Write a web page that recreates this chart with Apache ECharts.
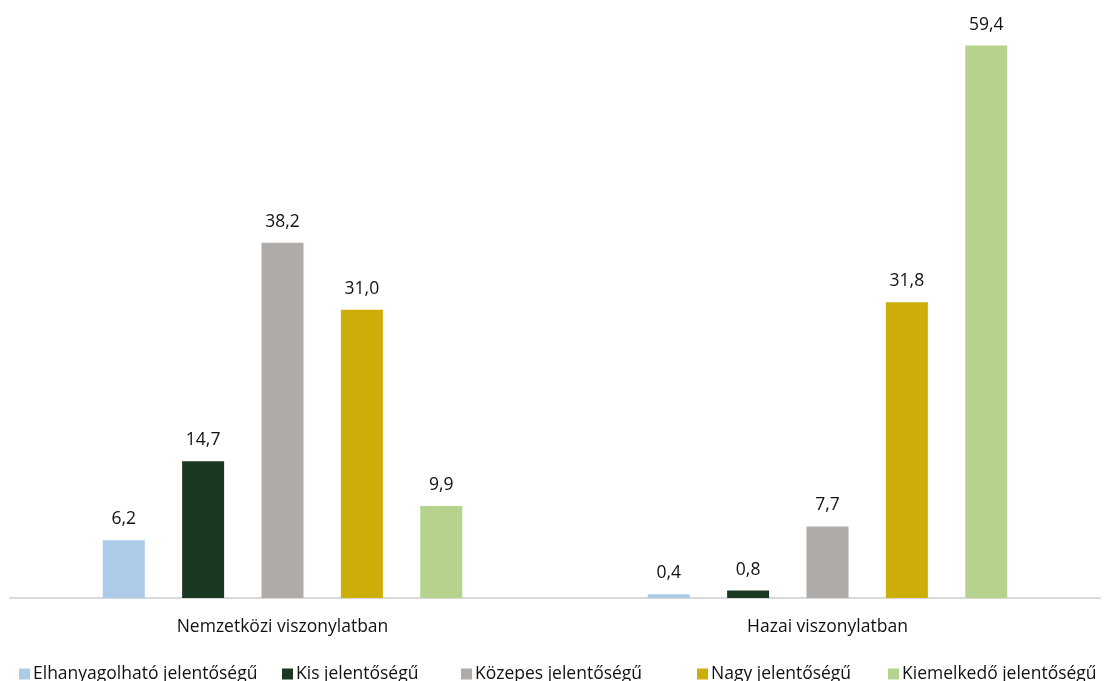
<!DOCTYPE html>
<html>
<head>
<meta charset="utf-8">
<script src="https://cdn.jsdelivr.net/npm/echarts@6/dist/echarts.min.js"></script>
<style>
  html, body { margin: 0; padding: 0; background: #fff; }
  #chart { width: 1104px; height: 681px; }
</style>
</head>
<body>
<div id="chart"></div>
<script>
// Categories along the x axis
const categories = ['Nemzetközi viszonylatban', 'Hazai viszonylatban'];

// One series per significance level (values in %)
const seriesNames = [
  'Elhanyagolható jelentőségű',
  'Kis jelentőségű',
  'Közepes jelentőségű',
  'Nagy jelentőségű',
  'Kiemelkedő jelentőségű'
];
const elhanyagolhato = [6.2, 0.4];
const kis = [14.7, 0.8];
const kozepes = [38.2, 7.7];
const nagy = [31.0, 31.8];
const kiemelkedo = [9.9, 59.4];

const seriesValues = [elhanyagolhato, kis, kozepes, nagy, kiemelkedo];
const colors = ['#ABCBE9', '#1B3822', '#AFABA9', '#CDAE08', '#B5D38C'];

// Left edge of each legend entry along the bottom row
const legendLefts = [14, 277, 456, 692, 883];

const fontFamily = '"Open Sans", "Liberation Sans", sans-serif';
const textColor = '#111';

const chart = echarts.init(document.getElementById('chart'), null, { renderer: 'canvas' });

chart.setOption({
  animation: false,
  color: colors,
  grid: { left: 10, right: 4, top: 40, bottom: 83 },
  legend: seriesNames.map((name, i) => ({
    data: [name],
    left: legendLefts[i],
    top: 660,
    itemWidth: 11,
    itemHeight: 11,
    icon: 'rect',
    textStyle: { fontFamily: fontFamily, fontSize: 17.5, color: textColor, padding: [0, 0, 0, -2] }
  })),
  xAxis: {
    type: 'category',
    data: categories,
    axisLine: { lineStyle: { color: '#D9D9D9', width: 2 } },
    axisTick: { show: false },
    axisLabel: { fontFamily: fontFamily, fontSize: 17.5, color: textColor, margin: 20 }
  },
  yAxis: {
    type: 'value',
    min: 0,
    max: 60,
    show: false,
    splitLine: { show: false }
  },
  series: seriesNames.map((name, i) => ({
    name: name,
    type: 'bar',
    data: seriesValues[i],
    barWidth: 42,
    barGap: '89%',
    itemStyle: { color: colors[i] },
    label: {
      show: true,
      position: 'top',
      distance: 12,
      fontFamily: fontFamily,
      fontSize: 17.5,
      color: textColor,
      formatter: p => p.value.toFixed(1).replace('.', ',')
    }
  }))
});
</script>
</body>
</html>
